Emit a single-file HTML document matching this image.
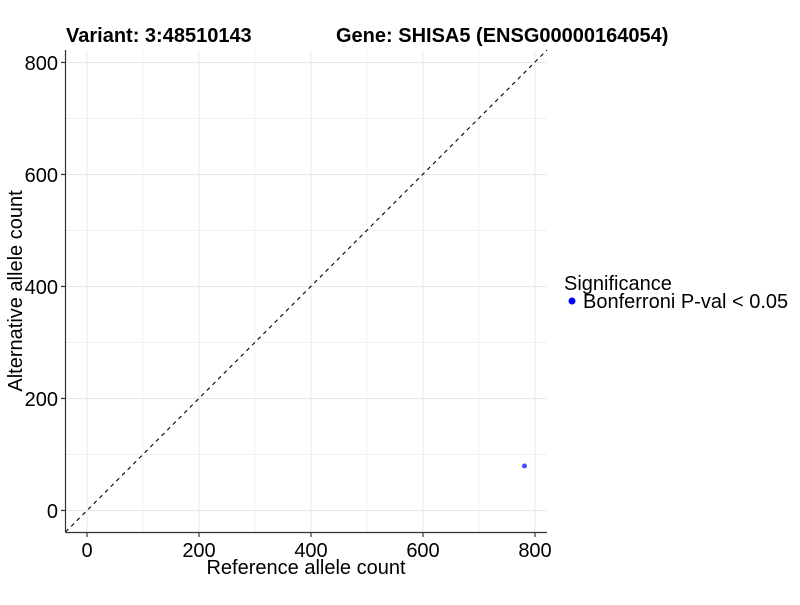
<!DOCTYPE html>
<html><head><style>body{margin:0;background:#fff}svg text{font-family:"Liberation Sans",Arial,sans-serif}</style></head>
<body>
<svg width="800" height="600" xmlns="http://www.w3.org/2000/svg">
<rect width="800" height="600" fill="#fff"/>
<g stroke="#f0f0f0" stroke-width="1">
<line x1="143" y1="50" x2="143" y2="532.5"/><line x1="255" y1="50" x2="255" y2="532.5"/><line x1="367" y1="50" x2="367" y2="532.5"/><line x1="479" y1="50" x2="479" y2="532.5"/>
<line x1="65.5" y1="454.5" x2="547" y2="454.5"/><line x1="65.5" y1="342.5" x2="547" y2="342.5"/><line x1="65.5" y1="230.5" x2="547" y2="230.5"/><line x1="65.5" y1="118.5" x2="547" y2="118.5"/>
</g>
<g stroke="#e8e8e8" stroke-width="1">
<line x1="87" y1="50" x2="87" y2="532.5"/><line x1="199" y1="50" x2="199" y2="532.5"/><line x1="311" y1="50" x2="311" y2="532.5"/><line x1="423" y1="50" x2="423" y2="532.5"/><line x1="535" y1="50" x2="535" y2="532.5"/>
<line x1="65.5" y1="510.5" x2="547" y2="510.5"/><line x1="65.5" y1="398.5" x2="547" y2="398.5"/><line x1="65.5" y1="286.5" x2="547" y2="286.5"/><line x1="65.5" y1="174.5" x2="547" y2="174.5"/><line x1="65.5" y1="62.5" x2="547" y2="62.5"/>
</g>
<line x1="65.5" y1="532" x2="547" y2="50" stroke="#000" stroke-width="1.1" stroke-dasharray="4,4"/>
<circle cx="524.5" cy="466" r="2.5" fill="#4c4cff"/>
<g stroke="#333" stroke-width="1.2">
<line x1="65.5" y1="50" x2="65.5" y2="532.5"/><line x1="65.5" y1="532.5" x2="547" y2="532.5"/>
<line x1="87" y1="532.5" x2="87" y2="537"/><line x1="199" y1="532.5" x2="199" y2="537"/><line x1="311" y1="532.5" x2="311" y2="537"/><line x1="423" y1="532.5" x2="423" y2="537"/><line x1="535" y1="532.5" x2="535" y2="537"/>
<line x1="61" y1="510.5" x2="65.5" y2="510.5"/><line x1="61" y1="398.5" x2="65.5" y2="398.5"/><line x1="61" y1="286.5" x2="65.5" y2="286.5"/><line x1="61" y1="174.5" x2="65.5" y2="174.5"/><line x1="61" y1="62.5" x2="65.5" y2="62.5"/>
</g>
<g font-size="20" fill="#000" text-anchor="middle">
<text x="87" y="557">0</text><text x="199" y="557">200</text><text x="311" y="557">400</text><text x="423" y="557">600</text><text x="535" y="557">800</text>
</g>
<g font-size="20" fill="#000" text-anchor="end">
<text x="58" y="518">0</text><text x="58" y="406">200</text><text x="58" y="294">400</text><text x="58" y="182">600</text><text x="58" y="70">800</text>
</g>
<text x="306" y="574" font-size="20" text-anchor="middle">Reference allele count</text>
<text transform="translate(22,291) rotate(-90)" font-size="20" text-anchor="middle">Alternative allele count</text>
<text x="66" y="42" font-size="20" font-weight="bold">Variant: 3:48510143</text>
<text x="336" y="42" font-size="20" font-weight="bold">Gene: SHISA5 (ENSG00000164054)</text>
<text x="564" y="290" font-size="20">Significance</text>
<circle cx="572" cy="301" r="3.5" fill="#0000ff"/>
<text x="583" y="308" font-size="20">Bonferroni P-val &lt; 0.05</text>
</svg>
</body></html>
